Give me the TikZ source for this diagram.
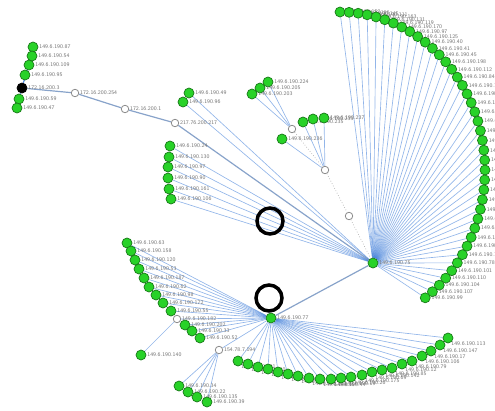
\documentclass[tikz,border=0pt]{standalone}
\usepackage{tikz}
\pgfdeclarelayer{bg}
\pgfsetlayers{bg,main}
\definecolor{hostgreen}{RGB}{40,210,40}
\definecolor{hostrim}{RGB}{25,120,25}
\definecolor{linkblue}{RGB}{45,120,230}
\tikzset{host/.style={circle, draw=hostrim, fill=hostgreen, line width=0.7pt, minimum size=10pt, inner sep=0pt}}
\tikzset{gate/.style={circle, draw=black!45, fill=white, line width=0.8pt, minimum size=7.5pt, inner sep=0pt}}
\tikzset{ip/.style={font=\fontsize{5.5}{6}\selectfont\sffamily, text=black!55, inner sep=0.8pt}}
\tikzset{link/.style={draw=linkblue!85!gray, draw opacity=0.55, line width=0.65pt}}
\tikzset{trunk/.style={draw=linkblue!50!gray, draw opacity=0.7, line width=1.2pt}}
\tikzset{faint/.style={draw=black!30, dotted, line width=0.7pt}}
\tikzset{hilite/.style={circle, draw=black, line width=3.5pt, minimum size=26pt, inner sep=0pt}}

\begin{document}
\begin{tikzpicture}[x=1pt, y=-1pt]
  \useasboundingbox (0,0) rectangle (495,410);

  % hubs
  \node (hA) [host, label={[ip]right:149.6.190.75}] at (373,263) {};
  \node (hB) [host, label={[ip]right:149.6.190.77}] at (271,318) {};

  % big arc round hub A
  \foreach \lab [count=\i from 0] in {152,186,145,111,163,131,119,170,97,125,40,41,45,198,112,84,103,177,138,65,71,189,149,58,127,92,116,180,160,68,81,133,197,57,143,78,101,110,104,107,99}
    \node (r\i) [host, label={[ip]right:149.6.190.\lab}] at ({340+145*cos(-90+3.6*\i)}, {170+158*sin(-90+3.6*\i)}) {};

  % column left of hub A
  \foreach \x/\y/\lab [count=\i] in {170/146/24, 169/157/130, 168/167/97, 168/178/90, 169/189/161, 171/199/106}
    \node (c\i) [host, label={[ip]right:149.6.190.\lab}] at (\x,\y) {};
  \node (p1) [host, label={[ip]right:149.6.190.49}] at (189,93) {};
  \node (p2) [host, label={[ip]right:149.6.190.96}] at (183,102) {};

  % gateway chain, top left
  \node (g1) [gate, label={[ip]right:172.16.200.254}] at (75,93) {};
  \node (g2) [gate, label={[ip]right:172.16.200.1}] at (125,109) {};
  \node (g3) [gate, label={[ip]right:217.76.200.217}] at (175,123) {};
  \node (k0) [host, fill=black, draw=black, label={[ip]right:172.16.200.3}] at (22,88) {};
  \foreach \x/\y/\lab [count=\i] in {33/47/87, 32/56/54, 29/65/109, 25/75/95, 19/99/59, 17/108/47}
    \node (k\i) [host, label={[ip]right:149.6.190.\lab}] at (\x,\y) {};

  % small branch above hub A
  \node (h1) [gate] at (292,129) {};
  \node (h2) [gate] at (325,170) {};
  \node (h3) [gate] at (349,216) {};
  \node (t1) [host, label={[ip]right:149.6.190.224}] at (268,82) {};
  \node (t2) [host, label={[ip]right:149.6.190.205}] at (260,88) {};
  \node (t3) [host, label={[ip]right:149.6.190.203}] at (252,94) {};
  \node (u1) [host, label={[ip]right:149.6.190.235}] at (303,122) {};
  \node (u2) [host, label={[ip]right:149.6.190.233}] at (313,119) {};
  \node (u3) [host, label={[ip]right:149.6.190.237}] at (324,118) {};
  \node (u4) [host, label={[ip]right:149.6.190.236}] at (282,139) {};

  % arcs round hub B
  \foreach \x/\y/\lab [count=\i] in {127/243/63, 131/251/158, 135/260/120, 139/269/53, 144/278/187, 149/287/62, 156/295/98, 163/303/172, 171/311/55, 185/325/202, 192/331/33, 200/338/52}
    \node (l\i) [host, label={[ip]right:149.6.190.\lab}] at (\x,\y) {};
  \node (q0) [gate, label={[ip]right:149.6.190.182}] at (177,319) {};
  \node (q1) [host, label={[ip]right:149.6.190.140}] at (141,355) {};

  \foreach \x/\y/\lab [count=\i] in {238/361/191, 248/364/130, 258/367/66, 268/369/73, 278/372/14, 288/374/88, 298/376/151, 309/378/123, 320/379/36, 331/379/44, 341/378/19, 351/377/26, 362/375/175, 372/372/69, 382/370/142, 392/368/85, 402/364/12, 412/361/79, 422/356/106, 431/351/17, 440/345/147, 448/338/113}
    \node (b\i) [host, label={[ip, label distance=-2pt]below right:149.6.190.\lab}] at (\x,\y) {};

  \node (s0) [gate, label={[ip]right:154.78.7.194}] at (219,350) {};
  \foreach \x/\y/\lab [count=\i] in {179/386/34, 188/392/22, 197/397/135, 207/402/39}
    \node (s\i) [host, label={[ip]right:149.6.190.\lab}] at (\x,\y) {};

  % marks
  \node (m1) [hilite] at (270,221) {};
  \node (m2) [hilite] at (269,298) {};

  \begin{pgfonlayer}{bg}
    \foreach \i in {0,...,40} \draw[link] (hA) -- (r\i);
    \foreach \i in {1,...,6} \draw[link] (hA) -- (c\i);
    \draw[link] (hA) -- (p1);
    \draw[link] (hA) -- (p2);
    \draw[trunk] (g1) -- (g2);
    \draw[trunk] (g2) -- (g3);
    \draw[trunk] (g3) -- (hA);
    \draw[trunk] (k0) -- (g1);
    \foreach \i in {1,...,6} \draw[link] (k0) -- (k\i);

    \foreach \i in {1,2,3} \draw[link] (h1) -- (t\i);
    \foreach \i in {1,...,4} \draw[link] (h2) -- (u\i);
    \draw[faint] (h1) -- (h2);
    \draw[faint] (h2) -- (h3);
    \draw[faint] (h3) -- (hA);

    \draw[trunk] (hA) -- (hB);
    \foreach \i in {1,...,12} \draw[link] (hB) -- (l\i);
    \foreach \i in {1,...,22} \draw[link] (hB) -- (b\i);
    \draw[link] (hB) -- (q0);
    \draw[link] (q0) -- (q1);
    \draw[link] (hB) -- (s0);
    \foreach \i in {1,...,4} \draw[link] (s0) -- (s\i);
  \end{pgfonlayer}
\end{tikzpicture}
\end{document}
